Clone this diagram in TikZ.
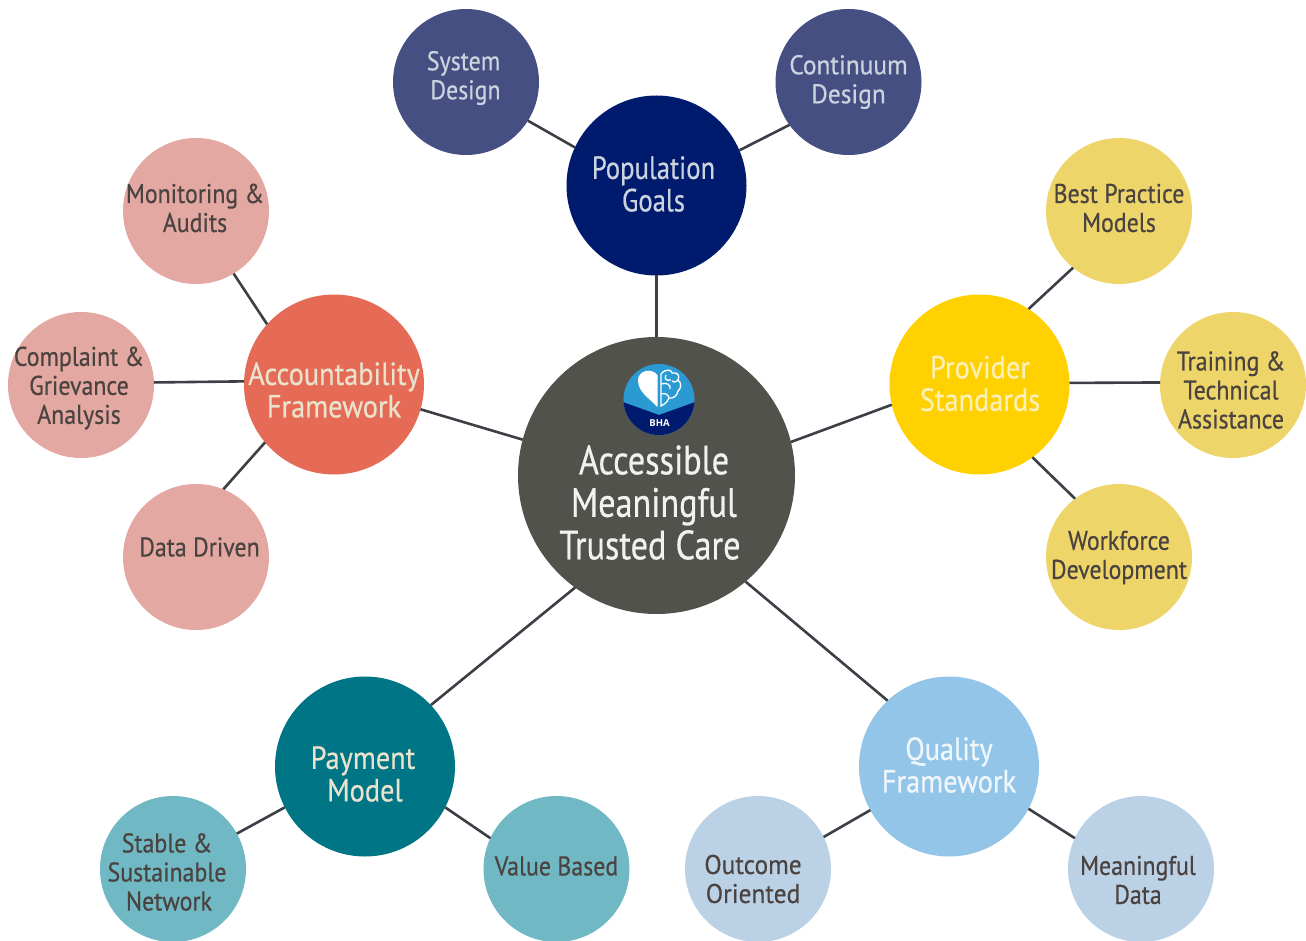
\documentclass[tikz,border=0pt]{standalone}
\usepackage{fontspec}
\setmainfont[FakeStretch=0.885,FakeBold=0.5]{PT Sans}
\newfontfamily\narrowfont[FakeStretch=0.835,FakeBold=0.5]{PT Sans}
\newfontfamily\widefont[FakeStretch=0.94,FakeBold=0.5]{PT Sans}
\newfontfamily\logofont[Scale=1]{Open Sans}
\definecolor{cline}{HTML}{3C3F45}
\definecolor{ccenter}{HTML}{51524C}
\definecolor{cpop}{HTML}{001A6E}
\definecolor{cpopl}{HTML}{454F82}
\definecolor{cprov}{HTML}{FFD100}
\definecolor{cprovl}{HTML}{EDD56A}
\definecolor{cacc}{HTML}{E56B57}
\definecolor{caccl}{HTML}{E3A8A1}
\definecolor{cpay}{HTML}{007586}
\definecolor{cpayl}{HTML}{70B8C4}
\definecolor{cqual}{HTML}{93C5E8}
\definecolor{cquall}{HTML}{BBD1E6}
\definecolor{ctxtd}{HTML}{4A4340}
\definecolor{ctxtc}{HTML}{E9E2CC}
\definecolor{ctxtp}{HTML}{CBD4DE}
\definecolor{ctxty}{HTML}{FBF0B8}
\definecolor{clogob}{HTML}{2B9AD3}
\tikzset{
  x=1pt,y=-1pt,
  disc/.style={circle,inner sep=0pt,outer sep=0pt,minimum size=146pt},
  hub/.style={circle,inner sep=0pt,outer sep=0pt,minimum size=180pt},
  link/.style={draw=cline,line width=2.6pt},
  small/.style={align=center,inner sep=0pt,text=ctxtd,font=\fontsize{27}{29}\selectfont},
  big/.style={align=center,inner sep=0pt,font=\fontsize{32}{32.5}\selectfont},
}
\begin{document}
\begin{tikzpicture}
\useasboundingbox (0,0) rectangle (1306,941);
% discs
\node[circle,inner sep=0pt,outer sep=0pt,minimum size=277pt,fill=ccenter] (center) at (656.5,475.5) {};
\node[hub,fill=cpop] (pop) at (656.5,185.5) {};
\node[disc,fill=cpopl] (sys) at (466,82) {};
\node[disc,fill=cpopl] (cont) at (848.5,82) {};
\node[hub,fill=cprov] (prov) at (979.5,384.5) {};
\node[disc,fill=cprovl] (best) at (1119,211) {};
\node[disc,fill=cprovl] (train) at (1233,385) {};
\node[disc,fill=cprovl] (work) at (1119,557) {};
\node[hub,fill=cacc] (acc) at (334,384.5) {};
\node[disc,fill=caccl] (mon) at (196,211) {};
\node[disc,fill=caccl] (comp) at (81,385) {};
\node[disc,fill=caccl] (data) at (196,557) {};
\node[hub,fill=cpay] (pay) at (365,766.5) {};
\node[disc,fill=cpayl] (stable) at (173,869) {};
\node[disc,fill=cpayl] (value) at (556.5,869) {};
\node[hub,fill=cqual] (qual) at (949,766.5) {};
\node[disc,fill=cquall] (out) at (758,869) {};
\node[disc,fill=cquall] (mean) at (1141,869) {};
% connectors
\draw[link] (center.90) -- (pop.270);
\draw[link] (pop.155) -- (sys.-32);
\draw[link] (pop.23) -- (cont.216);
\draw[link] (center.14.7) -- (prov.193);
\draw[link] (prov.57.6) -- (best.231.6);
\draw[link] (prov.1.6) -- (train.178);
\draw[link] (prov.-54) -- (work.127);
\draw[link] (center.165.5) -- (acc.-16);
\draw[link] (acc.138) -- (mon.-59.3);
\draw[link] (acc.178.4) -- (comp.2);
\draw[link] (acc.220) -- (data.68);
\draw[link] (center.234) -- (pay.43);
\draw[link] (pay.207.4) -- (stable.29.4);
\draw[link] (pay.-27.7) -- (value.155);
\draw[link] (center.-50.3) -- (qual.133.4);
\draw[link] (qual.209.7) -- (out.26);
\draw[link] (qual.-28.3) -- (mean.155);
% logo
\begin{scope}
\clip (659,399.5) circle (35.5);
\fill[clogob] (620,360) rectangle (700,440);
\fill[cpop] (620,401) -- (659,415) -- (698,401) -- (698,440) -- (620,440) -- cycle;
\end{scope}
\fill[white] (657.5,407) .. controls (648,397) and (638,392) .. (638,380)
  .. controls (638,371) and (651,367) .. (657.5,375) -- cycle;
\begin{scope}[white,line width=1.3pt,fill=none]
\draw (661,374) .. controls (666,368) and (672,370) .. (672,373)
  .. controls (678,372) and (680,376) .. (678,380)
  .. controls (682,383) and (681,389) .. (678,391)
  .. controls (677,396) and (673,399) .. (669,398)
  .. controls (667,403) and (663,405) .. (661,406) -- cycle;
\draw (661,384) .. controls (667,382) and (671,385) .. (670,389);
\draw (661,394) .. controls (665,393) and (668,394) .. (669,398);
\draw (666,375) .. controls (664,379) and (666,381) .. (671,380);
\draw (678,380) .. controls (675,383) and (673,382) .. (672,381);
\end{scope}
\node[inner sep=0pt,text=white] (logotext) at (659.5,423) {\logofont\fontsize{9.5}{10}\selectfont\bfseries BHA};
% labels
\node[align=center,inner sep=0pt,text=white,text opacity=0.92,font=\narrowfont\fontsize{41}{42.5}\selectfont] (tcenter) at (654,502.5) {Accessible\\Meaningful\\\hspace*{-8pt}Trusted Care};
\node[big,text=ctxtp,font=\narrowfont\fontsize{32}{32.5}\selectfont] (tpop) at (653.5,184) {Population\\Goals};
\node[small,text=ctxtp] (tsys) at (463.5,78) {System\\\hspace*{4pt}Design};
\node[small,text=ctxtp,font=\widefont\fontsize{27}{29}\selectfont] (tcont) at (848.5,82) {Continuum\\Design};
\node[big,text=ctxty] (tprov) at (980,383.5) {Provider\\Standards};
\node[small] (tbest) at (1119,208) {Best Practice\\Models};
\node[small] (ttrain) at (1231,390) {Training \&\\Technical\\Assistance};
\node[small] (twork) at (1119,557.5) {Workforce\\Development};
\node[big,text=ctxtc] (tacc) at (334,390) {Accountability\\Framework};
\node[small] (tmon) at (195,208) {Monitoring \&\\Audits};
\node[small] (tcomp) at (79,388) {Complaint \&\\Grievance\\Analysis};
\node[small] (tdata) at (199.5,547) {Data Driven};
\node[big,text=ctxtc] (tpay) at (363,774) {Payment\\\hspace*{4pt}Model};
\node[small] (tstable) at (167,872) {Stable \&\\Sustainable\\\hspace*{4pt}Network};
\node[small] (tvalue) at (556.5,866) {Value Based};
\node[big,text=white,text opacity=0.85] (tqual) at (949,765) {Quality\\Framework};
\node[small,font=\widefont\fontsize{27}{29}\selectfont] (tout) at (753,879) {Outcome\\Oriented};
\node[small] (tmean) at (1138,880) {Meaningful\\Data};
\end{tikzpicture}
\end{document}
